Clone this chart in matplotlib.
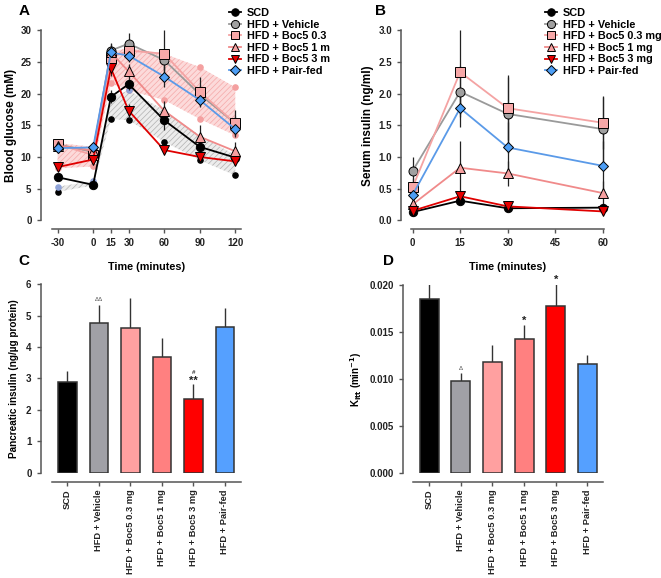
import matplotlib.pyplot as plt
import numpy as np
from matplotlib.transforms import Bbox, TransformedBbox

plt.rcParams['font.family'] = ['Liberation Sans', 'DejaVu Sans']
plt.rcParams['font.weight'] = 'bold'
plt.rcParams['axes.labelweight'] = 'bold'
plt.rcParams['axes.unicode_minus'] = False
plt.rcParams['hatch.linewidth'] = 0.5

# ---------------- data ----------------
groups = ['SCD', 'HFD + Vehicle', 'HFD + Boc5 0.3 mg', 'HFD + Boc5 1 mg',
          'HFD + Boc5 3 mg', 'HFD + Pair-fed']

# Panel A: blood glucose (mM)
time_a = [-30, 0, 15, 30, 60, 90, 120]
glu_scd = [6.8, 5.6, 19.5, 21.5, 15.8, 11.6, 9.9]
glu_veh = [12.0, 10.8, 26.8, 27.9, 25.3, 19.9, 15.3]
glu_b03 = [12.0, 10.3, 25.7, 26.8, 26.3, 20.3, 15.3]
glu_b1 = [11.8, 11.0, 26.5, 23.5, 17.3, 13.2, 10.9]
glu_b3 = [8.4, 9.6, 24.0, 17.3, 11.1, 10.0, 9.3]
glu_pf = [11.4, 11.5, 26.5, 26.0, 22.7, 19.0, 14.4]
glu_err_scd = [0.3, 0.3, 1.0, 0.9, 1.6, 0.8, 0.7]
glu_err_veh = [0.3, 0.4, 1.2, 1.7, 1.5, 1.5, 1.2]
glu_err_b03 = [0.3, 0.5, 1.0, 1.2, 3.8, 2.4, 2.1]
glu_err_b1 = [0.3, 0.4, 1.4, 1.2, 1.6, 1.8, 1.5]
glu_err_b3 = [0.3, 0.5, 1.2, 1.1, 0.5, 0.5, 0.6]
glu_err_pf = [0.3, 0.4, 1.0, 1.0, 1.6, 0.9, 0.9]
# shaded ranges
band_grey_lo = [4.5, 5.5, 16.0, 15.8, 12.4, 9.5, 7.1]
band_grey_hi = [5.3, 6.2, 19.5, 20.5, 17.4, 13.4, 10.3]
band_pink_lo = [8.2, 8.5, 21.6, 20.5, 19.0, 16.0, 13.4]
band_pink_hi = [12.2, 11.6, 26.6, 27.2, 26.3, 24.2, 21.0]
dots_blue_t = [-30, 0, 30]
dots_blue_v = [5.3, 6.2, 20.5]
dots_pink_t = [90, 120]
dots_pink_v = [24.2, 21.0]

# Panel B: serum insulin (ng/ml)
time_b = [0, 15, 30, 60]
ins_scd = [0.13, 0.31, 0.19, 0.20]
ins_veh = [0.78, 2.03, 1.68, 1.44]
ins_b03 = [0.52, 2.34, 1.77, 1.54]
ins_b1 = [0.25, 0.83, 0.74, 0.43]
ins_b3 = [0.15, 0.38, 0.22, 0.14]
ins_pf = [0.40, 1.77, 1.15, 0.86]
ins_err_scd = [0.02, 0.03, 0.02, 0.02]
ins_err_veh = [0.22, 0.40, 0.62, 0.50]
ins_err_b03 = [0.15, 0.66, 0.50, 0.42]
ins_err_b1 = [0.08, 0.42, 0.20, 0.19]
ins_err_b3 = [0.03, 0.05, 0.03, 0.03]
ins_err_pf = [0.10, 0.30, 0.40, 0.40]

# Panel C: pancreatic insulin
panc = [2.90, 4.77, 4.60, 3.67, 2.35, 4.65]
panc_err = [0.35, 0.58, 0.95, 0.63, 0.48, 0.58]

# Panel D: Kitt
kitt = [0.0185, 0.0098, 0.0118, 0.0142, 0.0178, 0.0116]
kitt_err = [0.0016, 0.0008, 0.0018, 0.0015, 0.0023, 0.0009]

# ---------------- styles ----------------
line_cols = ['black', '#9a9a9a', '#f4a3a3', '#f08a8a', '#e00000', '#5a9ae8']
face_cols = ['black', '#a0a0a0', '#f7a8a8', '#f7a0a0', '#e60000', '#4d9ef5']
markers = ['o', 'o', 's', '^', 'v', 'D']
msizes = [6, 6.5, 6.5, 6.5, 6.5, 5.5]
bar_cols = ['black', '#a0a0a6', '#ffa0a0', '#ff8080', '#ff0000', '#55a0ff']

W, H = 661, 578
fig = plt.figure(figsize=(W / 100, H / 100), dpi=100)


def style_axes(ax, left_out, bottom_out):
    for s in ['top', 'right']:
        ax.spines[s].set_visible(False)
    ax.spines['left'].set_position(('outward', left_out))
    ax.spines['bottom'].set_position(('outward', bottom_out))
    for s in ['left', 'bottom']:
        ax.spines[s].set_linewidth(1.1)
        ax.spines[s].set_color('#555555')
    ax.tick_params(labelsize=7, width=1.0, length=3, color='#555555',
                   labelcolor='#222222')


def line_panel(ax, t, series, errs):
    for i in range(len(series)):
        ax.errorbar(t, series[i], yerr=errs[i], fmt='none', ecolor='#222222',
                    elinewidth=0.9, capsize=0, zorder=2, clip_on=False)
    for i in range(len(series)):
        ax.plot(t, series[i], color=line_cols[i], lw=1.3, marker=markers[i],
                ms=msizes[i], mfc=face_cols[i], mec='black', mew=0.7,
                label=groups[i], zorder=3 + i * 0.1, clip_on=False)


def add_legend(ax, x0, clip_right=None):
    h, l = ax.get_legend_handles_labels()
    leg = fig.legend(h, l, loc='upper left', bbox_to_anchor=(x0 / W, 1 - 8 / H),
                     frameon=False, prop={'weight': 'bold', 'size': 7.8},
                     handlelength=1.1, handletextpad=0.55, labelspacing=0.15,
                     borderpad=0, borderaxespad=0, markerscale=0.9)
    if clip_right is not None:
        box = TransformedBbox(Bbox([[0, 0], [clip_right / W, 1]]), fig.transFigure)
        for txt in leg.get_texts():
            txt.set_clip_box(box)
            txt.set_clip_on(True)
    return leg


# ---------------- panel A ----------------
axA = fig.add_axes([51.7 / W, 1 - 220.3 / H, 189 / W, 190 / H])
axA.fill_between(time_a, band_pink_lo, band_pink_hi, facecolor='#fcdada',
                 edgecolor='#f5a8a8', hatch='//////', lw=0, zorder=1)
axA.fill_between(time_a, band_grey_lo, band_grey_hi, facecolor='#ececec',
                 edgecolor='#b0b0b0', hatch='//////', lw=0, zorder=1)
axA.scatter(time_a, band_grey_lo, s=14, color='black', zorder=1.5)
axA.scatter(time_a, band_pink_lo, s=14, color='#f4a0a0', zorder=1.4)
axA.scatter(dots_pink_t, dots_pink_v, s=14, color='#f4a0a0', zorder=1.4)
axA.scatter(dots_blue_t, dots_blue_v, s=14, color='#8fa3d8', zorder=1.6)
line_panel(axA, time_a,
           [glu_scd, glu_veh, glu_b03, glu_b1, glu_b3, glu_pf],
           [glu_err_scd, glu_err_veh, glu_err_b03, glu_err_b1, glu_err_b3, glu_err_pf])
axA.set_xlim(-35, 124.6)
axA.set_ylim(0, 30)
axA.set_xticks(time_a)
axA.set_yticks(range(0, 31, 5))
axA.set_ylabel('Blood glucose (mM)', fontsize=8.5, labelpad=3)
axA.set_xlabel('Time (minutes)', fontsize=7.8, labelpad=10)
style_axes(axA, 8, 6.5)
add_legend(axA, 229, clip_right=330)

# ---------------- panel B ----------------
axB = fig.add_axes([411 / W, 1 - 220.3 / H, 193 / W, 190 / H])
line_panel(axB, time_b,
           [ins_scd, ins_veh, ins_b03, ins_b1, ins_b3, ins_pf],
           [ins_err_scd, ins_err_veh, ins_err_b03, ins_err_b1, ins_err_b3, ins_err_pf])
axB.set_xlim(-0.5, 60.4)
axB.set_ylim(0, 3)
axB.set_xticks([0, 15, 30, 45, 60])
axB.set_yticks(np.arange(0, 3.01, 0.5))
axB.set_yticklabels(['0.0', '0.5', '1.0', '1.5', '2.0', '2.5', '3.0'])
axB.set_ylabel('Serum insulin (ng/ml)', fontsize=8.5, labelpad=3)
axB.set_xlabel('Time (minutes)', fontsize=7.8, labelpad=10)
style_axes(axB, 7, 6.5)
add_legend(axB, 545)


# ---------------- bar panels ----------------
def bar_panel(ax, vals, errs):
    x = np.arange(len(vals))
    ax.errorbar(x, vals, yerr=[np.zeros(len(errs)), errs], fmt='none',
                ecolor='#333333', elinewidth=1.0, capsize=0, zorder=1)
    ax.bar(x, vals, width=0.6, color=bar_cols, edgecolor='#333333',
           linewidth=1.1, zorder=2)
    ax.set_xlim(-0.5, 5.5)
    ax.set_xticks(x)
    ax.set_xticklabels(groups)
    return x


axC = fig.add_axes([51.7 / W, 1 - 472.7 / H, 189 / W, 188.4 / H])
xc = bar_panel(axC, panc, panc_err)
axC.set_ylim(0, 6)
axC.set_yticks(range(0, 7))
axC.set_ylabel('Pancreatic insulin (ng/µg protein)', fontsize=7.2, labelpad=5)
style_axes(axC, 8, 7)
axC.tick_params(axis='x', labelsize=6.7, labelrotation=90, pad=2)
axC.text(xc[1], panc[1] + panc_err[1] + 0.1, 'ΔΔ', ha='center', va='bottom',
         fontsize=4.5, color='#555555', fontweight='normal')
axC.text(xc[4], panc[4] + panc_err[4] + 0.28, '#', ha='center', va='bottom',
         fontsize=4.5, color='#333333')
axC.text(xc[4], panc[4] + panc_err[4] - 0.05, '**', ha='center', va='bottom',
         fontsize=8, color='#222222')

axD = fig.add_axes([413.3 / W, 1 - 472.7 / H, 190 / W, 187.7 / H])
xd = bar_panel(axD, kitt, kitt_err)
axD.set_ylim(0, 0.020)
axD.set_yticks(np.arange(0, 0.0201, 0.005))
axD.set_yticklabels(['0.000', '0.005', '0.010', '0.015', '0.020'])
axD.set_ylabel('K$_{\\mathbf{itt}}$ (min$^{\\mathbf{-1}}$)', fontsize=7, labelpad=4)
style_axes(axD, 7.5, 7)
axD.tick_params(axis='x', labelsize=6.7, labelrotation=90, pad=2)
axD.text(xd[1], kitt[1] + kitt_err[1] + 0.0002, 'Δ', ha='center', va='bottom',
         fontsize=4.5, color='#555555', fontweight='normal')
for i in [3, 4]:
    axD.text(xd[i], kitt[i] + kitt_err[i] - 0.0001, '*', ha='center',
             va='bottom', fontsize=8, color='#222222')

# panel letters
for lbl, px, py in [('A', 24, 11), ('B', 381, 11), ('C', 24, 261), ('D', 389, 261)]:
    fig.text(px / W, 1 - py / H, lbl, fontsize=11, fontweight='bold',
             ha='center', va='center')

fig.savefig('out.png', dpi=100)
